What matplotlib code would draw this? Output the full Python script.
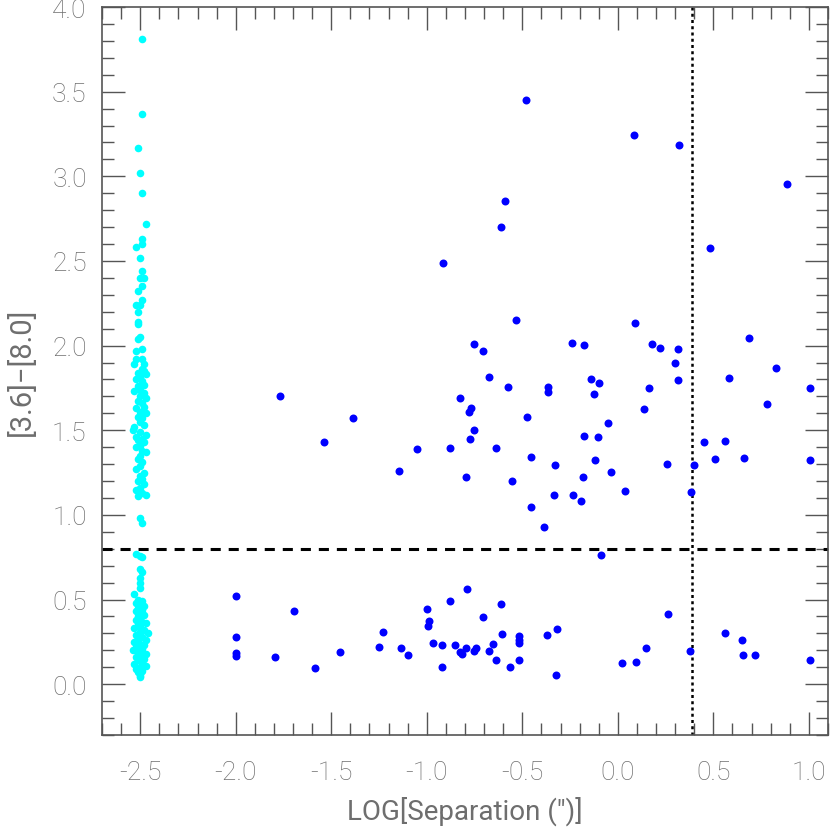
import matplotlib
matplotlib.use("Agg")
import matplotlib.pyplot as plt
from matplotlib.ticker import MultipleLocator, FormatStrFormatter

# blue points: companions (log separation, [3.6]-[8.0])
blue_x = [
    -0.533, -0.753, -0.704, -1.769, -0.676, -0.575, -1.386, -0.826, -0.767, -0.781,
    -0.755, -0.776, -1.537, -1.053, -0.877, -0.640, -1.148, -0.795, -0.556,
    -0.479, 0.086, 0.322, 0.886, -0.589, -0.612, 0.481, -0.917, 0.090, -0.242,
    -0.175, 0.177, 0.219, 0.317, 0.685, 0.297, 0.830, 0.580, -0.139, -0.097,
    -0.367, -0.364, -0.127, 0.161, 0.313, 1.004, 0.783, 0.135, -0.477, -0.051,
    -0.177, -0.102, 0.451, 0.561, -0.457, -0.327, -0.121, 0.256, 0.397, 0.509,
    0.662, 1.004, -0.182, -0.036, -0.336, -0.237, -0.193, 0.038, 0.383, -0.453,
    -0.385, -0.086,
    -2.0, -2.0, -2.0, -2.0, -1.697, -1.795, -1.584, -1.455, -1.250, -1.228,
    -1.135, -1.100, -0.997, -0.990, -0.994, -0.970, -0.919, -0.919, -0.877,
    -0.851, -0.828, -0.818, -0.793, -0.792, -0.753, -0.742, -0.706, -0.673,
    -0.652, -0.636, -0.612, -0.605, -0.567, -0.520, -0.516, -0.520, -0.520,
    -0.371, -0.317, -0.326, 0.024, 0.095, 0.148, 0.263, 0.376, 0.559, 0.648,
    0.657, 0.720, 1.004,
]
blue_y = [
    2.152, 2.012, 1.971, 1.701, 1.815, 1.758, 1.573, 1.689, 1.634, 1.607,
    1.504, 1.449, 1.429, 1.392, 1.394, 1.398, 1.262, 1.225, 1.201,
    3.448, 3.245, 3.186, 2.955, 2.855, 2.703, 2.579, 2.487, 2.132, 2.016,
    2.004, 2.008, 1.985, 1.981, 2.046, 1.900, 1.869, 1.811, 1.802, 1.780,
    1.758, 1.725, 1.715, 1.747, 1.796, 1.752, 1.658, 1.628, 1.581, 1.540,
    1.467, 1.463, 1.431, 1.437, 1.343, 1.292, 1.325, 1.298, 1.296, 1.333,
    1.339, 1.327, 1.225, 1.256, 1.115, 1.120, 1.081, 1.140, 1.136, 1.045,
    0.929, 0.762,
    0.520, 0.276, 0.185, 0.164, 0.433, 0.161, 0.093, 0.191, 0.220, 0.309,
    0.215, 0.171, 0.443, 0.372, 0.341, 0.242, 0.232, 0.102, 0.492,
    0.234, 0.191, 0.177, 0.215, 0.565, 0.199, 0.215, 0.394, 0.199,
    0.236, 0.144, 0.473, 0.299, 0.099, 0.285, 0.262, 0.242, 0.144,
    0.288, 0.329, 0.053, 0.124, 0.130, 0.213, 0.415, 0.197, 0.303, 0.264,
    0.173, 0.173, 0.144,
]

# cyan points: single sources plotted at log separation ~ -2.5
cyan_x = [
    -2.49, -2.49, -2.51, -2.50, -2.49, -2.47, -2.49, -2.49, -2.52, -2.50,
    -2.49, -2.50, -2.48, -2.49, -2.51, -2.49, -2.52, -2.50, -2.51, -2.51,
    -2.51, -2.50, -2.51, -2.49, -2.52, -2.52, -2.49, -2.53, -2.48,
    -2.49, -2.48, -2.51, -2.47, -2.50, -2.52, -2.49, -2.48, -2.51, -2.50,
    -2.53, -2.48, -2.50, -2.47, -2.51, -2.49, -2.48, -2.52, -2.50, -2.47,
    -2.51, -2.49, -2.50, -2.48, -2.53, -2.54, -2.50, -2.47, -2.52, -2.49,
    -2.51, -2.48, -2.50, -2.52, -2.49, -2.47, -2.50, -2.51, -2.49, -2.50,
    -2.52, -2.48, -2.50, -2.49, -2.51, -2.48, -2.50, -2.52, -2.49, -2.47,
    -2.51,
    -2.50, -2.49, -2.52, -2.50, -2.49, -2.50, -2.49, -2.50, -2.50, -2.50,
    -2.53,
    -2.51, -2.49, -2.52, -2.50, -2.48, -2.51, -2.49, -2.52, -2.50, -2.48,
    -2.51, -2.50, -2.52, -2.49, -2.47, -2.51, -2.50, -2.53, -2.48, -2.50,
    -2.46, -2.52, -2.49, -2.51, -2.47, -2.53, -2.50, -2.48, -2.52, -2.49,
    -2.54, -2.51, -2.47, -2.50, -2.52, -2.48, -2.51, -2.49, -2.53, -2.47,
    -2.50, -2.52, -2.49, -2.51, -2.50, -2.50, -2.50,
]
cyan_y = [
    3.81, 3.37, 3.17, 3.02, 2.90, 2.72, 2.63, 2.60, 2.58, 2.52,
    2.44, 2.40, 2.40, 2.35, 2.32, 2.27, 2.24, 2.24, 2.20, 2.14,
    2.13, 2.05, 2.04, 1.98, 1.97, 1.92, 1.92, 1.89, 1.89,
    1.86, 1.85, 1.84, 1.83, 1.82, 1.80, 1.79, 1.77, 1.76, 1.74,
    1.73, 1.72, 1.70, 1.69, 1.67, 1.66, 1.64, 1.63, 1.61, 1.60,
    1.58, 1.57, 1.55, 1.53, 1.52, 1.50, 1.49, 1.47, 1.46, 1.45,
    1.44, 1.43, 1.41, 1.40, 1.38, 1.37, 1.35, 1.33, 1.31, 1.29,
    1.27, 1.25, 1.23, 1.21, 1.20, 1.18, 1.16, 1.15, 1.13, 1.12,
    1.11,
    0.98, 0.95, 0.77, 0.76, 0.75, 0.68, 0.66, 0.63, 0.60, 0.57,
    0.53,
    0.50, 0.49, 0.48, 0.47, 0.46, 0.45, 0.44, 0.43, 0.42, 0.41,
    0.40, 0.39, 0.38, 0.37, 0.36, 0.35, 0.34, 0.33, 0.32, 0.31,
    0.30, 0.29, 0.28, 0.27, 0.26, 0.25, 0.24, 0.23, 0.22, 0.21,
    0.20, 0.19, 0.18, 0.17, 0.16, 0.15, 0.14, 0.13, 0.12, 0.11,
    0.10, 0.09, 0.08, 0.07, 0.06, 0.05, 0.04,
]

color_cut = 0.8
sep_cut = 0.39


def main():
    plt.rcParams["font.family"] = ["Roboto", "DejaVu Sans"]
    plt.rcParams["font.weight"] = "light"

    fig = plt.figure(figsize=(8.30, 8.29), dpi=100)
    ax = fig.add_axes([0.1229, 0.1122, 0.8747, 0.8781])

    ax.scatter(cyan_x, cyan_y, s=30, color="#00ffff", linewidths=0, zorder=3)
    ax.scatter(blue_x, blue_y, s=33, color="#0000ff", linewidths=0, zorder=3)

    # colour cut and separation cut
    ax.axhline(color_cut, color="black", lw=2.2, linestyle=(0, (3.3, 2.6)), zorder=2)
    ax.axvline(sep_cut, color="black", lw=1.8, linestyle=(0, (1.2, 1.3)), zorder=2)

    ax.set_xlim(-2.7, 1.1)
    ax.set_ylim(-0.3, 4.0)

    ax.xaxis.set_major_locator(MultipleLocator(0.5))
    ax.xaxis.set_minor_locator(MultipleLocator(0.1))
    ax.yaxis.set_major_locator(MultipleLocator(0.5))
    ax.yaxis.set_minor_locator(MultipleLocator(0.1))
    ax.xaxis.set_major_formatter(FormatStrFormatter("%.1f"))
    ax.yaxis.set_major_formatter(FormatStrFormatter("%.1f"))

    grey = "#6e6e6e"
    ax.tick_params(which="both", direction="in", top=True, right=True,
                   color="#555555", width=1.0)
    ax.tick_params(which="major", length=16.5, labelsize=19, labelcolor=grey, pad=18)
    ax.tick_params(axis="y", which="major", pad=11)
    ax.tick_params(which="minor", length=8.5)
    for sp in ax.spines.values():
        sp.set_color("#555555")
        sp.set_linewidth(1.2)

    ax.set_xlabel('LOG[Separation (")]', fontsize=20, color=grey, labelpad=8)
    ax.set_ylabel("[3.6]\u2212[8.0]", fontsize=21, color=grey, labelpad=12)

    fig.savefig("out.png", dpi=100)


if __name__ == "__main__":
    main()
